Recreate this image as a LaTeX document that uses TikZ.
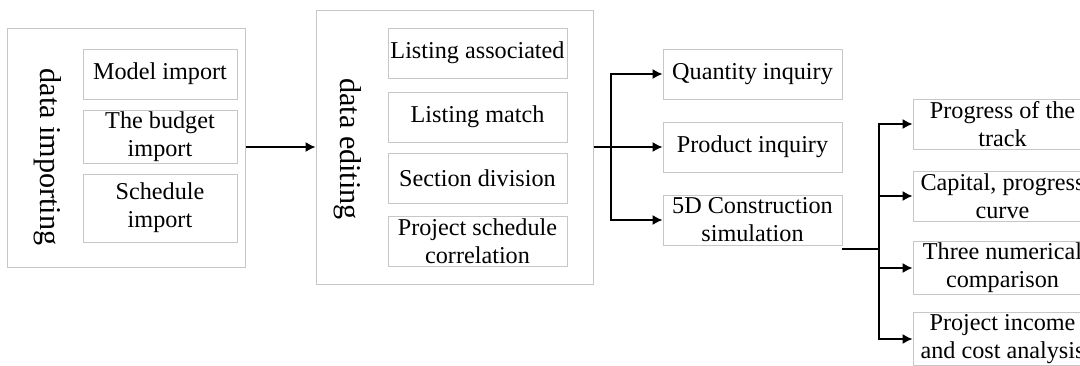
\documentclass[tikz,border=0pt]{standalone}
\usepackage{fontspec}
\setmainfont{Liberation Serif}
\usetikzlibrary{arrows.meta}
\tikzset{>={Latex[length=5pt,width=5pt]}}

\begin{document}
\begin{tikzpicture}[x=0.5pt,y=-0.5pt,
  group/.style={draw=black!22, line width=0.5pt, inner sep=0pt},
  item/.style={draw=black!22, line width=0.5pt, inner sep=1pt, align=center,
    font=\fontsize{12.1}{14}\selectfont, minimum height=25pt},
  side/.style={rotate=-90, inner sep=0pt, font=\fontsize{15.1}{18}\selectfont},
  link/.style={line width=0.65pt}]

  \useasboundingbox (0,0) rectangle (1080,365);
  \clip (0,0) rectangle (1080,365);

  % Groups
  \node[group, minimum width=119pt, minimum height=119.5pt] (importing) at (126,147.5) {};
  \node[group, minimum width=138.5pt, minimum height=137pt] (editing) at (454.5,147) {};
  \node[side] (importlabel) at (48,157) {data importing};
  \node[side] (editlabel) at (348,149) {data editing};

  % Import steps
  \node[item, minimum width=77pt] (model) at (160,74) {Model import};
  \node[item, minimum width=77pt] (budget) at (160,137) {The budget\\import};
  \node[item, minimum width=77pt, minimum height=34pt] (schedule) at (160,208) {Schedule\\import};

  % Editing steps
  \node[item, minimum width=89.5pt] (assoc) at (477.5,53) {Listing associated};
  \node[item, minimum width=89.5pt] (match) at (477.5,117) {Listing match};
  \node[item, minimum width=89.5pt] (section) at (477.5,178.5) {Section division};
  \node[item, minimum width=89.5pt] (correl) at (477.5,241.5) {Project schedule\\correlation};

  % Applications
  \node[item, minimum width=89.5pt] (quantity) at (752.5,74) {Quantity inquiry};
  \node[item, minimum width=89.5pt] (product) at (752.5,147) {Product inquiry};
  \node[item, minimum width=89.5pt] (simul) at (752.5,220) {5D Construction\\simulation};

  % Simulation results
  \node[item, minimum width=89.5pt] (track) at (1002.5,124) {Progress of the\\track};
  \node[item, minimum width=89.5pt] (capital) at (1002.5,196) {Capital, progress\\curve};
  \node[item, minimum width=89.5pt] (three) at (1002.5,268) {Three numerical\\comparison};
  \node[item, minimum width=89.5pt] (income) at (1002.5,339) {Project income\\and cost analysis};

  \coordinate (split1) at (611,147);
  \coordinate (simout) at (842,249);
  \coordinate (split2) at (879,249);

  \draw[link,->] (importing.east |- 0,147) -- (editing.west |- 0,147);
  \draw[link] (editing.east |- split1) -- (split1);
  \draw[link,->] (split1) |- (quantity.west);
  \draw[link,->] (split1) -- (product.west);
  \draw[link,->] (split1) |- (simul.west);
  \draw[link] (simout) -- (split2);
  \draw[link,->] (split2) |- (track.west);
  \draw[link,->] (split2) |- (capital.west);
  \draw[link,->] (split2) |- (three.west);
  \draw[link,->] (split2) |- (income.west);

\end{tikzpicture}
\end{document}
